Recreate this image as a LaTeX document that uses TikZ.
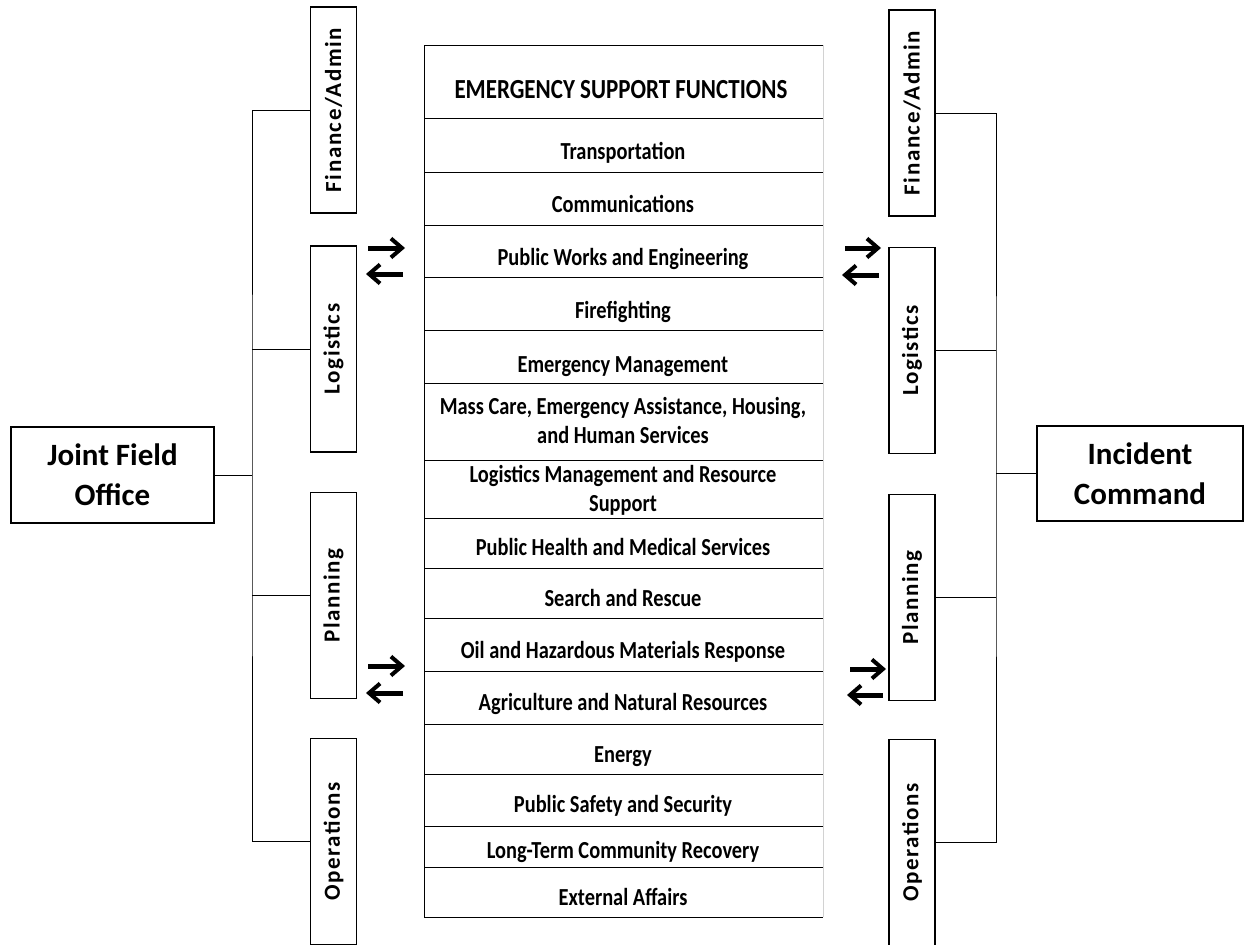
\documentclass[tikz,border=0pt]{standalone}
\usepackage{fontspec}
\setmainfont{Carlito}
\newfontfamily\deptfont[LetterSpace=7, UprightFont=*, BoldFont=* Bold]{Carlito}
\usetikzlibrary{arrows.meta}

% row text is drawn a little taller than wide, as in the scan
\newcommand{\tallrow}[1]{\scalebox{1}[1.2]{\begin{tabular}[b]{@{}c@{}}#1\end{tabular}}}

\tikzset{
  unitbox/.style={draw, line width=1.3pt, align=center, inner sep=0pt,
    font=\bfseries\fontsize{31}{40}\selectfont},
  dept/.style={draw, line width=1.3pt, minimum width=46pt, minimum height=206pt,
    inner sep=0pt, font=\deptfont\bfseries\fontsize{23}{26}\selectfont},
  esf/.style={anchor=base, inner sep=0pt, font=\bfseries\fontsize{20.4}{24}\selectfont},
  link/.style={line width=0.9pt},
  rule/.style={line width=0.9pt},
  swaparrow/.style={line width=5pt, -{Straight Barb[length=11pt, width=19pt, line width=4pt]}}
}

\begin{document}
\begin{tikzpicture}[x=1pt, y=-1pt]
  \useasboundingbox (0,0) rectangle (1251,945);

  % emergency support functions table
  \foreach \y in {45,118,172,225,277,330,383,460,518,568,618,671,724,774,826,867,917}
    \draw[rule] (424,\y) -- (823,\y);
  \draw[rule] (424,45) -- (424,917);
  \draw[gray!35, line width=0.5pt] (823,45) -- (823,917);

  \node[esf] (title) at (621,98) {\tallrow{\fontsize{23}{26}\selectfont EMERGENCY SUPPORT FUNCTIONS}};
  \foreach \y/\t [count=\i] in {
      159/Transportation, 212/Communications, 265/Public Works and Engineering,
      318/Firefighting, 372/Emergency Management,
      443/{Mass Care, Emergency Assistance, Housing,\\ and Human Services},
      511/{Logistics Management and Resource\\ Support},
      555/Public Health and Medical Services, 606/Search and Rescue,
      658/Oil and Hazardous Materials Response, 710/Agriculture and Natural Resources,
      762/Energy, 812/Public Safety and Security, 858/Long-Term Community Recovery,
      905/External Affairs}
    \node[esf] (esf\i) at (623,\y) {\tallrow{\t}};

  % left side
  \node[unitbox, minimum width=203pt, minimum height=96pt] (jfo) at (112.5,475) {Joint Field\\Office};
  \node[dept] (lfin) at (333.5,110) {\rotatebox{90}{Finance/Admin}};
  \node[dept] (llog) at (333.5,349) {\rotatebox{90}{Logistics}};
  \node[dept] (lplan) at (333.5,595.5) {\rotatebox{90}{Planning}};
  \node[dept] (lops) at (333.5,841.5) {\rotatebox{90}{Operations}};

  \coordinate (lbus) at (252,475);
  \draw[link] (lfin.west) -| (lbus) |- (lops.west);
  \foreach \n in {jfo.east, llog.west, lplan.west}
    \draw[link] (\n) -- (\n -| lbus);

  % right side
  \node[unitbox, minimum width=206pt, minimum height=95pt] (ic) at (1140,473.5) {Incident\\Command};
  \node[dept] (rfin) at (912,113) {\rotatebox{90}{Finance/Admin}};
  \node[dept] (rlog) at (912,350.5) {\rotatebox{90}{Logistics}};
  \node[dept] (rplan) at (912,597.5) {\rotatebox{90}{Planning}};
  \node[dept] (rops) at (912,842.5) {\rotatebox{90}{Operations}};

  \coordinate (rbus) at (996,475);
  \draw[link] (rfin.east) -| (rbus) |- (rops.east);
  \foreach \n in {ic.west, rlog.east, rplan.east}
    \draw[link] (\n) -- (\n -| rbus);

  % exchange arrows
  \coordinate (a0) at (368,248); \coordinate (a1) at (405,248);
  \coordinate (b0) at (403,274); \coordinate (b1) at (366,274);
  \coordinate (c0) at (368,666); \coordinate (c1) at (405,666);
  \coordinate (d0) at (403,693); \coordinate (d1) at (366,693);
  \coordinate (e0) at (845,248); \coordinate (e1) at (881,248);
  \coordinate (f0) at (879,275); \coordinate (f1) at (842,275);
  \coordinate (g0) at (850,669); \coordinate (g1) at (886,669);
  \coordinate (h0) at (883,695); \coordinate (h1) at (847,695);
  \foreach \n in {a,b,c,d,e,f,g,h}
    \draw[swaparrow] (\n0) -- (\n1);
\end{tikzpicture}
\end{document}
